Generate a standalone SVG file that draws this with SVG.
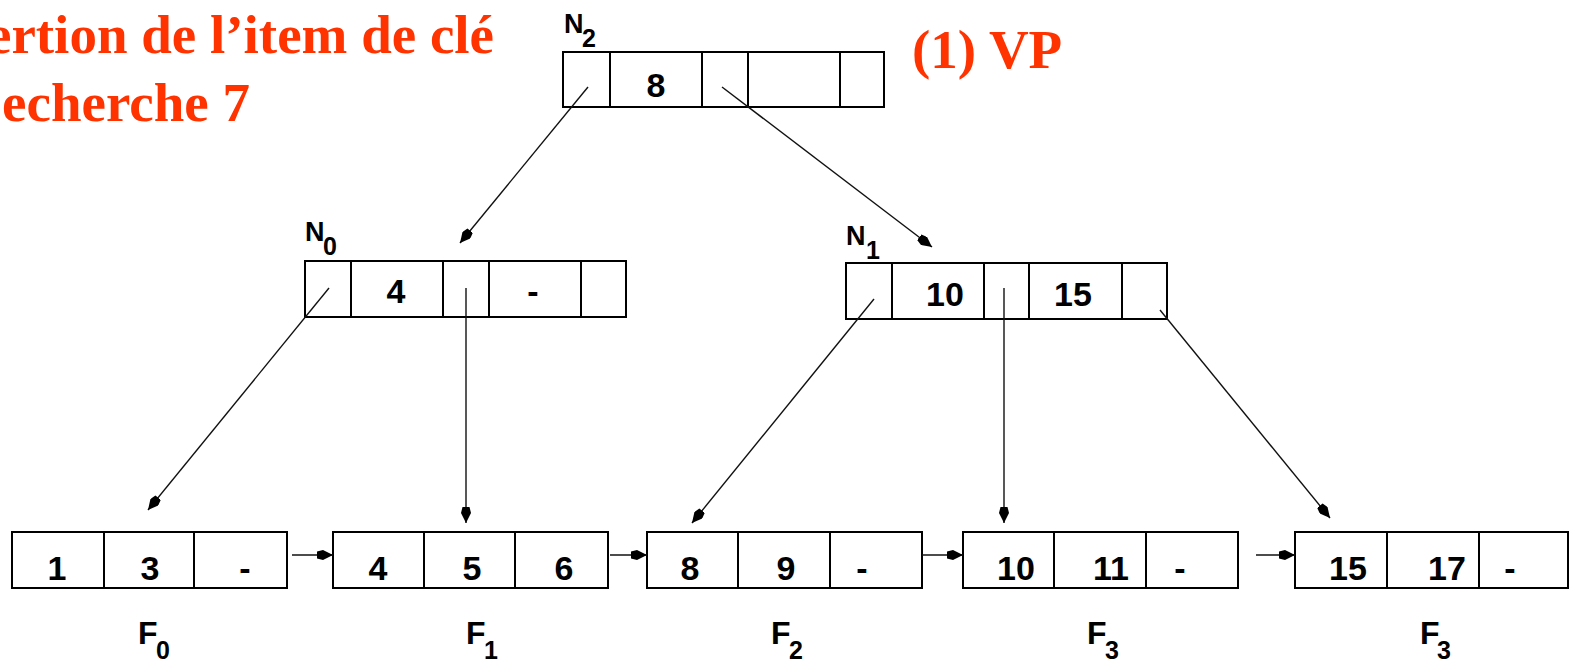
<svg xmlns="http://www.w3.org/2000/svg" width="1570" height="664" viewBox="0 0 1570 664">
<style>
.title{font-family:"Liberation Serif",serif;font-weight:bold;font-size:55px;fill:#FF3300}
.cell{fill:#fff;stroke:#000;stroke-width:2}
.div{stroke:#000;stroke-width:2}
.num{font-family:"Liberation Sans",Arial,sans-serif;font-weight:bold;font-size:34px;fill:#000;text-anchor:middle}
.lab{font-family:"Liberation Sans",Arial,sans-serif;font-weight:bold;font-size:27px;fill:#000}
.sub{font-family:"Liberation Sans",Arial,sans-serif;font-weight:bold;font-size:25px;fill:#000}
.flab{font-family:"Liberation Sans",Arial,sans-serif;font-weight:bold;font-size:32px;fill:#000}
.fsub{font-family:"Liberation Sans",Arial,sans-serif;font-weight:bold;font-size:25px;fill:#000}
.conn{stroke:#111;stroke-width:1.4;fill:none;marker-end:url(#ah)}
</style>
<defs>
<marker id="ah" markerUnits="userSpaceOnUse" viewBox="0 0 16 10" refX="16" refY="5" markerWidth="16" markerHeight="10" orient="auto">
<path d="M0,1.5 L6,0 L16,5 L6,10 L0,8.5 Z" fill="#000"/>
</marker>
</defs>

<g id="title">
<text class="title" x="494" y="53" text-anchor="end">ertion de l’item de clé</text>
<text class="title" x="250" y="121" text-anchor="end">echerche 7</text>
<text class="title" x="912" y="68">(1) VP</text>
</g>

<g id="N2">
<text class="lab" x="564" y="33">N</text><text class="sub" x="582" y="47">2</text>
<rect class="cell" x="563" y="52" width="321" height="55"/>
<line class="div" x1="610" y1="52" x2="610" y2="107"/>
<line class="div" x1="702" y1="52" x2="702" y2="107"/>
<line class="div" x1="748" y1="52" x2="748" y2="107"/>
<line class="div" x1="840" y1="52" x2="840" y2="107"/>
<text class="num" x="656" y="97">8</text>
</g>

<g id="N0">
<text class="lab" x="305" y="241">N</text><text class="sub" x="323" y="255">0</text>
<rect class="cell" x="305" y="261" width="321" height="56"/>
<line class="div" x1="351" y1="261" x2="351" y2="317"/>
<line class="div" x1="443" y1="261" x2="443" y2="317"/>
<line class="div" x1="489" y1="261" x2="489" y2="317"/>
<line class="div" x1="581" y1="261" x2="581" y2="317"/>
<text class="num" x="396" y="303">4</text>
<text class="num" x="533" y="303">-</text>
</g>

<g id="N1">
<text class="lab" x="846" y="245">N</text><text class="sub" x="866" y="259">1</text>
<rect class="cell" x="846" y="263" width="321" height="56"/>
<line class="div" x1="892" y1="263" x2="892" y2="319"/>
<line class="div" x1="984" y1="263" x2="984" y2="319"/>
<line class="div" x1="1029" y1="263" x2="1029" y2="319"/>
<line class="div" x1="1122" y1="263" x2="1122" y2="319"/>
<text class="num" x="945" y="306">10</text>
<text class="num" x="1073" y="306">15</text>
</g>

<g id="F0">
<rect class="cell" x="12" y="532" width="275" height="56"/>
<line class="div" x1="104" y1="532" x2="104" y2="588"/>
<line class="div" x1="194" y1="532" x2="194" y2="588"/>
<text class="num" x="57" y="580">1</text>
<text class="num" x="150" y="580">3</text>
<text class="num" x="245" y="580">-</text>
<text class="flab" x="138" y="644">F</text><text class="fsub" x="156" y="659">0</text>
</g>

<g id="F1">
<rect class="cell" x="333" y="532" width="275" height="56"/>
<line class="div" x1="424" y1="532" x2="424" y2="588"/>
<line class="div" x1="515" y1="532" x2="515" y2="588"/>
<text class="num" x="378" y="580">4</text>
<text class="num" x="472" y="580">5</text>
<text class="num" x="564" y="580">6</text>
<text class="flab" x="466" y="644">F</text><text class="fsub" x="484" y="659">1</text>
</g>

<g id="F2">
<rect class="cell" x="647" y="532" width="275" height="56"/>
<line class="div" x1="738" y1="532" x2="738" y2="588"/>
<line class="div" x1="830" y1="532" x2="830" y2="588"/>
<text class="num" x="690" y="580">8</text>
<text class="num" x="786" y="580">9</text>
<text class="num" x="862" y="580">-</text>
<text class="flab" x="771" y="644">F</text><text class="fsub" x="789" y="659">2</text>
</g>

<g id="F3">
<rect class="cell" x="963" y="532" width="275" height="56"/>
<line class="div" x1="1054" y1="532" x2="1054" y2="588"/>
<line class="div" x1="1146" y1="532" x2="1146" y2="588"/>
<text class="num" x="1016" y="580">10</text>
<text class="num" x="1111" y="580">11</text>
<text class="num" x="1180" y="580">-</text>
<text class="flab" x="1087" y="644">F</text><text class="fsub" x="1105" y="659">3</text>
</g>

<g id="F4">
<rect class="cell" x="1295" y="532" width="273" height="56"/>
<line class="div" x1="1387" y1="532" x2="1387" y2="588"/>
<line class="div" x1="1479" y1="532" x2="1479" y2="588"/>
<text class="num" x="1348" y="580">15</text>
<text class="num" x="1447" y="580">17</text>
<text class="num" x="1510" y="580">-</text>
<text class="flab" x="1420" y="644">F</text><text class="fsub" x="1437" y="659">3</text>
</g>

<g id="connectors">
<line class="conn" x1="588" y1="87" x2="460" y2="243"/>
<line class="conn" x1="722" y1="87" x2="932" y2="247"/>
<line class="conn" x1="329" y1="288" x2="148" y2="510"/>
<line class="conn" x1="466" y1="288" x2="466" y2="523"/>
<line class="conn" x1="874" y1="299" x2="692" y2="523"/>
<line class="conn" x1="1004" y1="288" x2="1004" y2="523"/>
<line class="conn" x1="1160" y1="310" x2="1330" y2="518"/>
<line class="conn" x1="292" y1="555" x2="333" y2="555"/>
<line class="conn" x1="610" y1="555" x2="647" y2="555"/>
<line class="conn" x1="922" y1="555" x2="963" y2="555"/>
<line class="conn" x1="1256" y1="555" x2="1295" y2="555"/>
</g>
</svg>
